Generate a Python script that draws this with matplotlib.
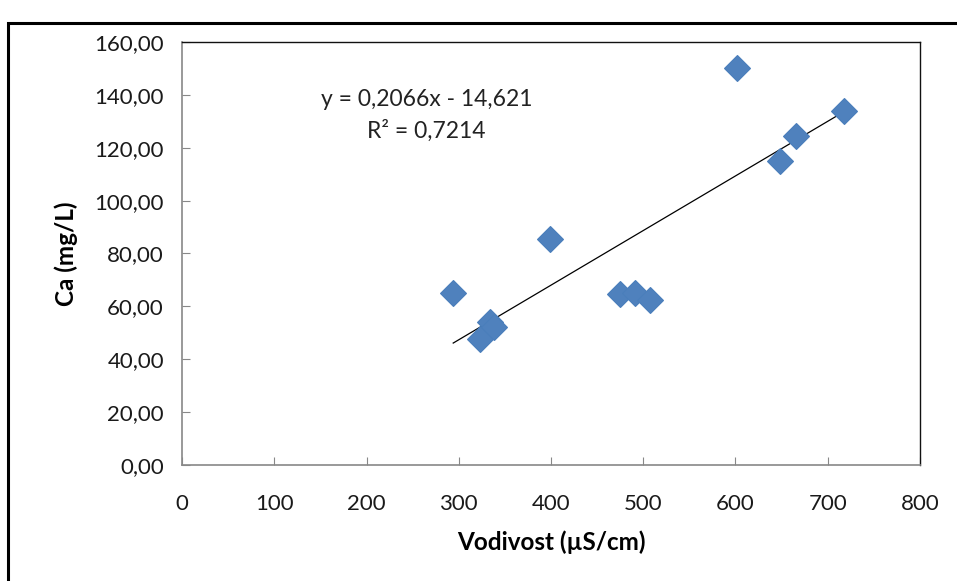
import matplotlib.pyplot as plt
import matplotlib.patches as patches
import numpy as np

plt.rcParams['font.family'] = ['Lato', 'DejaVu Sans']

# vodivost (uS/cm) i Ca (mg/L), ocitano sa grafikona
vodivost = [294, 323, 334, 338, 399, 475, 491, 507, 602, 648, 666, 718]
ca = [65.1, 47.7, 54.1, 52.2, 85.5, 64.7, 65.1, 62.4, 150.2, 115.0, 124.4, 133.9]

# linearni trend (Excel)
nagib = 0.2066
odsjecak = -14.621
r2 = 0.7214

x_ticks = [0, 100, 200, 300, 400, 500, 600, 700, 800]
y_ticks = [0, 20, 40, 60, 80, 100, 120, 140, 160]

fig = plt.figure(figsize=(9.57, 5.81), dpi=100)
ax = fig.add_axes([0.1902, 0.1997, 0.9613 - 0.1902, 0.9277 - 0.1997])

# okvir oko cijelog grafikona
okvir = patches.Rectangle((0.008, -0.05), 1.2, 1.01, transform=fig.transFigure,
                          fill=False, edgecolor='black', linewidth=2.2)
fig.patches.append(okvir)

ax.plot(vodivost, ca, linestyle='none', marker='D', ms=13.5,
        color='#4F81BD', mec='#4A7EBB', mew=0.8, zorder=3)

xt = np.array([min(vodivost), max(vodivost)])
ax.plot(xt, nagib * xt + odsjecak, color='black', linewidth=0.9, zorder=2)

ax.text(265, 138.2, 'y = 0,2066x - 14,621', ha='center', va='center',
        fontsize=16.5, color='#222222')
ax.text(265, 126.3, 'R² = 0,7214', ha='center', va='center',
        fontsize=16.5, color='#222222')

ax.set_xlim(0, 800)
ax.set_ylim(0, 160)
ax.set_xticks(x_ticks)
ax.set_yticks(y_ticks)
ax.set_xticklabels([str(v) for v in x_ticks])
ax.set_yticklabels([f'{v:.2f}'.replace('.', ',') for v in y_ticks])

ax.tick_params(axis='both', direction='in', length=6, color='#888888',
               labelsize=16, labelcolor='#1a1a1a')
ax.tick_params(axis='x', pad=21)
ax.tick_params(axis='y', pad=13)

for s in ['left', 'bottom']:
    ax.spines[s].set_color('#888888')
    ax.spines[s].set_linewidth(1.2)
for s in ['top', 'right']:
    ax.spines[s].set_color('#111111')
    ax.spines[s].set_linewidth(1.0)

ax.set_xlabel('Vodivost (µS/cm)', fontsize=17.5, fontweight='bold', labelpad=12)
ax.set_ylabel('Ca (mg/L)', fontsize=17.5, fontweight='bold', labelpad=12)

fig.savefig('out.png', dpi=100)
